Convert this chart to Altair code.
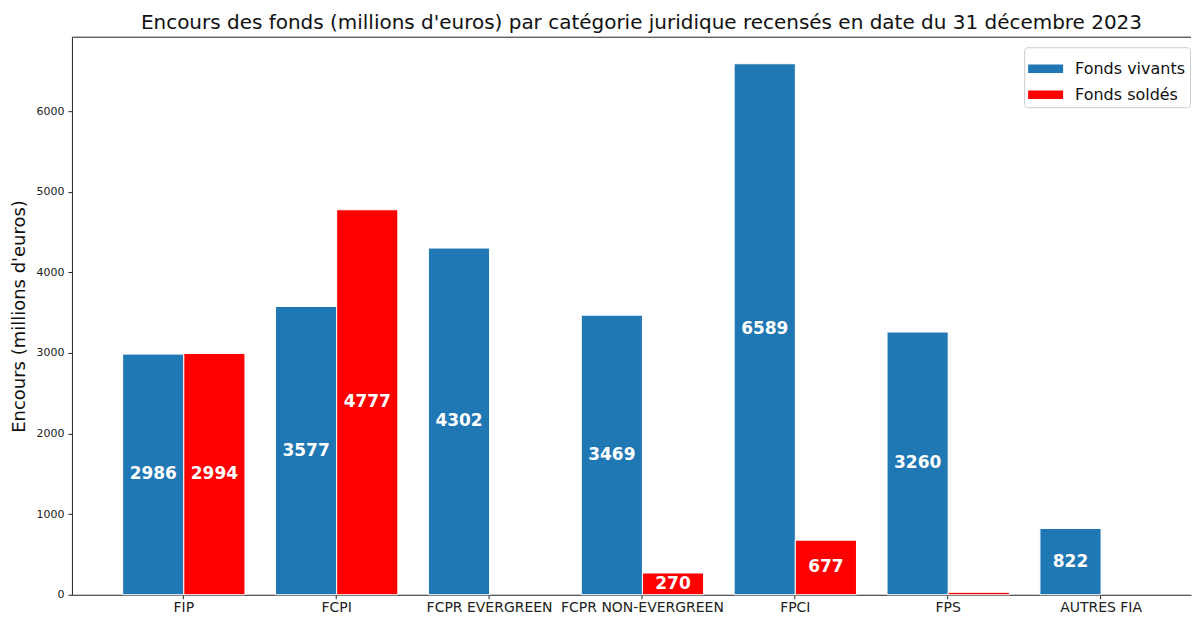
import altair as alt
import pandas as pd

categories = ["FIP", "FCPI", "FCPR EVERGREEN", "FCPR NON-EVERGREEN", "FPCI", "FPS", "AUTRES FIA"]
vivants = [2986, 3577, 4302, 3469, 6589, 3260, 822]
soldes = [2994, 4777, 0, 270, 677, 30, 0]
series_names = ["Fonds vivants", "Fonds soldés"]
series_colors = ["#1f77b4", "#ff0000"]
y_ticks = [0, 1000, 2000, 3000, 4000, 5000, 6000]
y_max = 6918
title_text = "Encours des fonds (millions d'euros) par catégorie juridique recensés en date du 31 décembre 2023"
y_title = "Encours (millions d'euros)"

rows = []
for c, v, s in zip(categories, vivants, soldes):
    rows.append({"cat": c, "serie": series_names[0], "value": v})
    rows.append({"cat": c, "serie": series_names[1], "value": s})
df = pd.DataFrame(rows)

FONT = "DejaVu Sans"
W = 1120
H = 558
AX = "#222222"

x = alt.X(
    "cat:N", sort=categories, title=None,
    scale=alt.Scale(paddingInner=0.2, paddingOuter=0.26, align=0.638),
    axis=alt.Axis(labelAngle=0, labelFontSize=14, labelColor=AX, tickColor=AX,
                  domainColor=AX, tickSize=4, labelPadding=2, labelFont=FONT,
                  domainWidth=1, tickWidth=1),
)
xo = alt.XOffset("serie:N", sort=series_names,
                 scale=alt.Scale(domain=series_names, paddingInner=0, paddingOuter=0))
yscale = alt.Scale(domain=[0, y_max], nice=False, zero=True)
yaxis = alt.Axis(values=y_ticks, grid=False, labelFontSize=11, labelColor=AX,
                 tickColor=AX, domainColor=AX, tickSize=4, labelPadding=4,
                 titleFontSize=18, titleFontWeight="normal", titleColor="#111111",
                 titleFont=FONT, labelFont=FONT, titlePadding=7, format="d")
y = alt.Y("value:Q", title=y_title, scale=yscale, axis=yaxis)

bars = alt.Chart(df).transform_filter("datum.value > 0").mark_bar(
    stroke="white", strokeWidth=1
).encode(
    x=x, xOffset=xo, y=y,
    color=alt.Color(
        "serie:N", sort=series_names,
        scale=alt.Scale(domain=series_names, range=series_colors),
        legend=alt.Legend(
            title=None, orient="none", legendX=953, legendY=10,
            symbolType="M-1,-0.24L1,-0.24L1,0.24L-1,0.24Z", symbolSize=1225,
            symbolStrokeWidth=0, labelFontSize=16, labelFont=FONT, labelColor="#111111",
            strokeColor="#cccccc", fillColor="white", padding=4, cornerRadius=3,
            rowPadding=0, labelOffset=12,
        ),
    ),
)

labels = alt.Chart(df).transform_filter("datum.value > 100").transform_calculate(
    mid="datum.value / 2"
).mark_text(
    color="white", fontSize=17, fontWeight="bold", font=FONT, baseline="middle", align="center"
).encode(
    x=x, xOffset=xo,
    y=alt.Y("mid:Q", title=y_title, scale=yscale, axis=yaxis),
    text=alt.Text("value:Q", format="d"),
)

top = alt.Chart(pd.DataFrame({"k": [0]})).mark_rule(color=AX, strokeWidth=1).encode(
    x=alt.value(0), x2=alt.value(W), y=alt.value(0)
)

chart = alt.layer(bars, labels, top).properties(
    width=W, height=H,
    title=alt.TitleParams(text=title_text, fontSize=20, font=FONT, fontWeight="normal",
                          color="#111111", anchor="middle", dx=10, offset=4),
    padding={"left": 3, "top": 4, "right": 0, "bottom": 0},
).configure_view(stroke=None)

chart.save("out.html", embed_options={"renderer": "svg", "actions": False})
